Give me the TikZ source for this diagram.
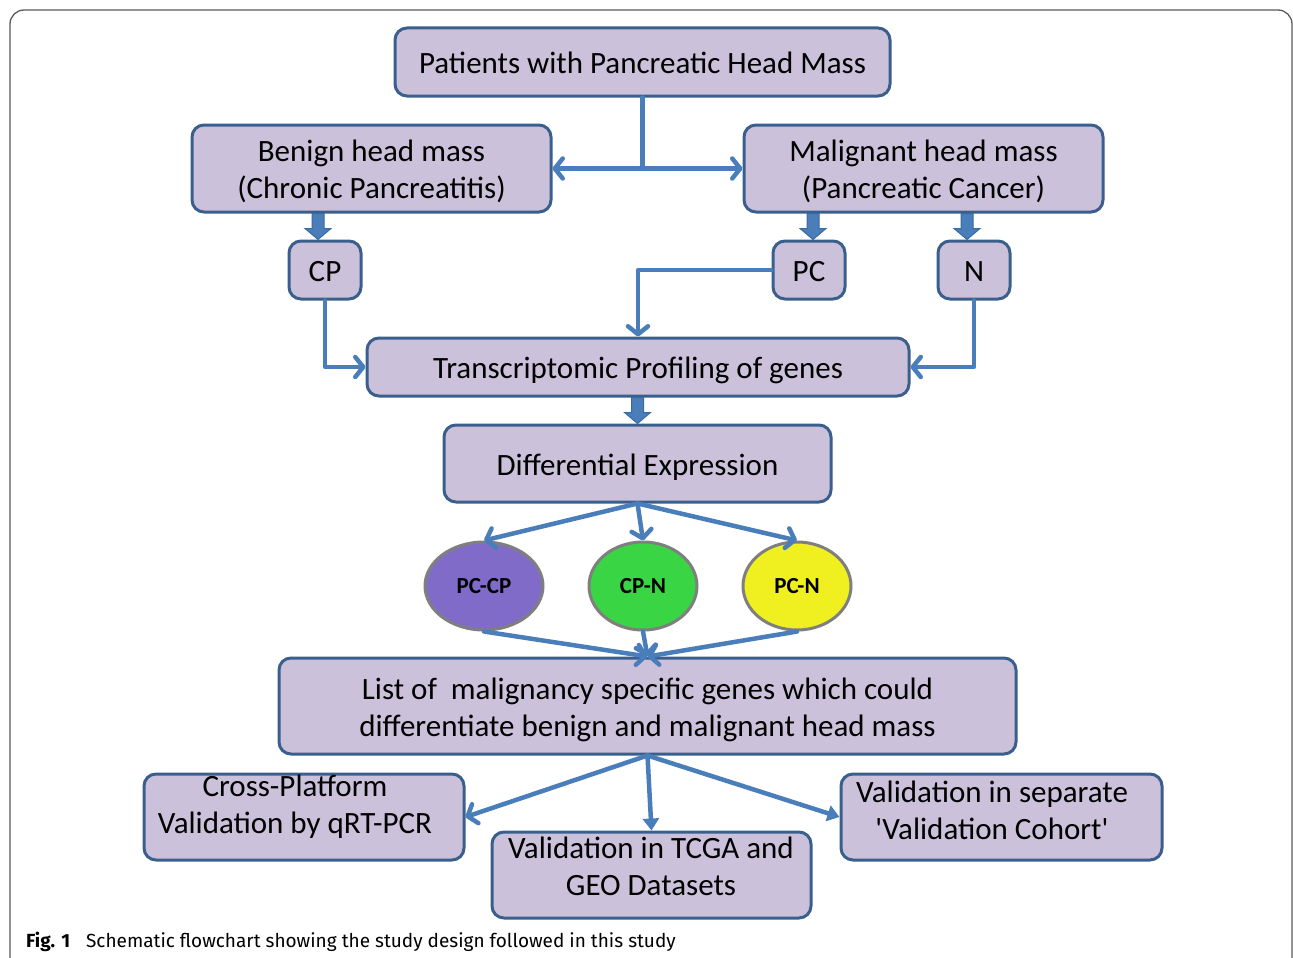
\documentclass[tikz,border=0pt]{standalone}
\usepackage{fontspec}
\setmainfont{Carlito}[Ligatures=TeXOff]
\newfontfamily\capfont{Fira Sans}
\usetikzlibrary{arrows.meta,calc,shapes.geometric}
\definecolor{boxfill}{HTML}{CCC1DA}
\definecolor{boxline}{HTML}{3A5F8C}
\definecolor{arrc}{HTML}{4A7EBB}
\definecolor{fatline}{HTML}{3A6A9E}
\definecolor{ellpur}{HTML}{806CC8}
\definecolor{ellgrn}{HTML}{3AD545}
\definecolor{ellyel}{HTML}{F0F020}
\definecolor{ellline}{HTML}{7F7F7F}
\definecolor{framec}{HTML}{5A5A5A}
\newcommand\fatarrow[2]{\filldraw[fat] let \p1=(#1), \p2=(#2) in (\x1-6,\y1) -- (\x1-6,\y2+11) -- (\x1-13,\y2+11) -- (\x1,\y2) -- (\x1+13,\y2+11) -- (\x1+6,\y2+11) -- (\x1+6,\y1) -- cycle;}
\begin{document}
\begin{tikzpicture}[x=1pt,y=-1pt,
 box/.style={draw=boxline,fill=boxfill,line width=3pt,rounded corners=12pt,inner sep=0pt},
 txt/.style={inner sep=0pt,align=center,font=\fontsize{31}{37}\selectfont},
 ell/.style={ellipse,draw=ellline,line width=3pt,inner sep=0pt,font=\fontsize{23}{26}\selectfont\bfseries},
 conn/.style={draw=arrc,line width=4.5pt,line cap=round,line join=round},
 arr/.style={conn,-{Straight Barb[length=8pt,width=20pt,round]}},
 tri/.style={conn,-{Triangle[length=12pt,width=16pt]}},
 fat/.style={fill=arrc,draw=fatline,line width=1pt}]
\useasboundingbox (0,0) rectangle (1293,958);
\fill[white] (0,0) rectangle (1293,958);
\draw[framec,line width=1.3pt,rounded corners=14pt] (10,1000) -- (10,10) -- (1292,10) -- (1292,1000);

% boxes
\node[box,minimum width=495pt,minimum height=68pt,label={[txt,yshift=-1pt]center:{Patients with Pancreatic Head Mass}}] (top) at (642.5,62) {};
\node[box,minimum width=359pt,minimum height=87pt,label={[txt,yshift=-3pt]center:{Benign head mass\\(Chronic Pancreatitis)}}] (benign) at (371.5,168.5) {};
\node[box,minimum width=359pt,minimum height=87pt,label={[txt,yshift=-3pt]center:{Malignant head mass\\(Pancreatic Cancer)}}] (malig) at (923.5,168.5) {};
\node[box,minimum width=72pt,minimum height=58pt,label={[txt,yshift=-2pt]center:CP}] (cp) at (325,270) {};
\node[box,minimum width=72pt,minimum height=58pt,label={[txt,yshift=-2pt]center:PC}] (pc) at (809,270) {};
\node[box,minimum width=72pt,minimum height=58pt,label={[txt,yshift=-2pt]center:N}] (n) at (974,270) {};
\node[box,minimum width=542pt,minimum height=58pt,label={[txt,yshift=-3pt]center:{Transcriptomic Profiling of genes}}] (trans) at (638,367) {};
\node[box,minimum width=387pt,minimum height=77pt,label={[txt,yshift=-4pt]center:{Differential Expression}}] (diff) at (637.5,463.5) {};
\node[ell,fill=ellpur,minimum width=118pt,minimum height=88pt] (pccp) at (484,586) {PC-CP};
\node[ell,fill=ellgrn,minimum width=108pt,minimum height=88pt] (cpn) at (643,586) {CP-N};
\node[ell,fill=ellyel,minimum width=108pt,minimum height=88pt] (pcn) at (797,586) {PC-N};
\node[box,minimum width=737pt,minimum height=96pt,label={[txt,yshift=-4pt]center:{List of~ malignancy specific genes which could\\differentiate benign and malignant head mass}}] (list) at (647.5,706) {};
\node[box,minimum width=320pt,minimum height=86pt] (cross) at (304,817) {};
\node[txt] (crosst) at (295,807) {Cross-Platform\\Validation by qRT-PCR};
\node[box,minimum width=319pt,minimum height=86pt] (tcga) at (651.5,875) {};
\node[txt] (tcgat) at (651,866) {Validation in TCGA and\\GEO Datasets};
\node[box,minimum width=321pt,minimum height=86pt] (sep) at (1001.5,817) {};
\node[txt] (sept) at (992,810) {Validation in separate\\'Validation Cohort'};

% caption
\node[anchor=base west,inner sep=0pt,font=\capfont\fontsize{19}{22}\selectfont] (cap) at (26,947) {\textbf{Fig. 1}\hspace{16pt}Schematic flowchart showing the study design followed in this study};

% connectors
\coordinate (j1) at (top.south |- benign.east);
\draw[conn] (top.south) -- (j1);
\draw[arr] (j1) -- (benign.east);
\draw[arr] (j1) -- (malig.west);
\fatarrow{[xshift=-7pt]cp.north |- benign.south}{[xshift=-7pt]cp.north}
\fatarrow{[xshift=4pt]pc.north |- malig.south}{[xshift=4pt]pc.north}
\fatarrow{[xshift=-7pt]n.north |- malig.south}{[xshift=-7pt]n.north}
\fatarrow{diff.north |- trans.south}{diff.north}
\draw[arr] (cp.south) |- (trans.west);
\draw[arr] (pc.west) -| (trans.north);
\draw[arr] (n.south) |- (trans.east);
\draw[arr] (diff.south) -- (pccp.north);
\draw[arr] (diff.south) -- (cpn.north);
\draw[arr] (diff.south) -- (pcn.north);
\draw[arr] (pccp.south) -- (list.north);
\draw[arr] (cpn.south) -- (list.north);
\draw[arr] (pcn.south) -- (list.north);
\draw[arr] (list.south) -- (cross.east);
\draw[tri] (list.south) -- (tcga.north);
\draw[tri] (list.south) -- (sep.west);
\end{tikzpicture}
\end{document}
